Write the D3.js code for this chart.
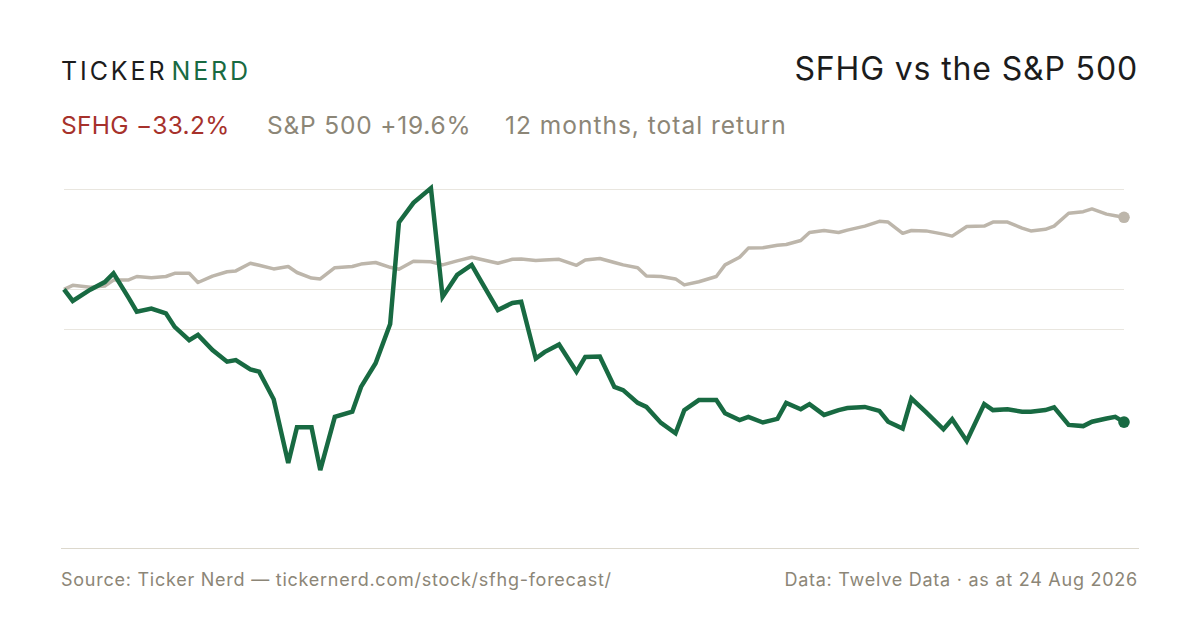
<!DOCTYPE html>
<html>
<head>
<meta charset="utf-8">
<script src="https://cdn.jsdelivr.net/npm/d3@7/dist/d3.min.js"></script>
<style>
  html, body { margin: 0; padding: 0; background: #ffffff; }
  svg { display: block; }
  text { font-family: Inter, "Noto Sans", sans-serif; }
</style>
</head>
<body>
<svg id="chart" width="1200" height="630"></svg>
<script>
// ---- data ----
const dates = [
  "2025-08-25","2025-08-28","2025-09-03","2025-09-08","2025-09-11","2025-09-16","2025-09-19","2025-09-24","2025-09-29","2025-10-02",
  "2025-10-07","2025-10-10","2025-10-15","2025-10-20","2025-10-23","2025-10-28","2025-10-31","2025-11-05","2025-11-10","2025-11-13",
  "2025-11-18","2025-11-21","2025-11-26","2025-12-02","2025-12-05","2025-12-10","2025-12-15","2025-12-18","2025-12-23","2025-12-29",
  "2026-01-02","2026-01-07","2026-01-12","2026-01-15","2026-01-21","2026-01-26","2026-01-29","2026-02-03","2026-02-06","2026-02-11",
  "2026-02-17","2026-02-20","2026-02-25","2026-03-02","2026-03-05","2026-03-10","2026-03-13","2026-03-18","2026-03-23","2026-03-26",
  "2026-03-31","2026-04-06","2026-04-09","2026-04-14","2026-04-17","2026-04-22","2026-04-27","2026-04-30","2026-05-05","2026-05-08",
  "2026-05-13","2026-05-18","2026-05-21","2026-05-27","2026-06-01","2026-06-04","2026-06-09","2026-06-12","2026-06-17","2026-06-23",
  "2026-06-26","2026-07-01","2026-07-07","2026-07-10","2026-07-15","2026-07-20","2026-07-23","2026-07-28","2026-07-31","2026-08-05",
  "2026-08-10","2026-08-13","2026-08-18","2026-08-21","2026-08-24"
];

// SFHG cumulative return, %
const sfhg = [
  0.0, -2.9, -0.1, 1.8, 4.0, -1.9, -5.6, -4.8, -6.0, -9.4,
  -12.7, -11.4, -15.2, -18.1, -17.7, -20.0, -20.6, -27.5, -43.4, -34.5,
  -34.5, -45.2, -31.9, -30.6, -24.4, -18.5, -8.7, 16.7, 21.6, 25.3,
  -1.9, 3.6, 6.1, 2.3, -5.2, -3.4, -3.1, -17.3, -15.7, -13.8,
  -20.6, -16.9, -16.8, -24.4, -25.2, -28.4, -29.4, -33.4, -36.0, -30.2,
  -27.7, -27.7, -31.0, -32.7, -31.9, -33.3, -32.4, -28.4, -30.0, -28.7,
  -31.4, -30.2, -29.7, -29.4, -30.4, -33.1, -34.8, -27.3, -30.7, -35.0,
  -32.5, -37.9, -28.7, -30.2, -30.0, -30.6, -30.6, -30.2, -29.5, -33.9,
  -34.2, -33.1, -32.3, -31.9, -33.2
];

// S&P 500 cumulative return, %
const spx = [
  0.0, 1.0, 0.5, 0.8, 2.3, 2.3, 3.2, 2.9, 3.2, 4.0,
  4.0, 1.7, 3.3, 4.4, 4.6, 6.5, 6.0, 5.1, 5.7, 4.2,
  2.8, 2.6, 5.4, 5.7, 6.3, 6.7, 5.5, 5.0, 7.0, 6.9,
  6.1, 7.1, 8.0, 7.5, 6.5, 7.5, 7.6, 7.2, 7.3, 7.5,
  6.0, 7.3, 7.7, 6.7, 6.1, 5.4, 3.3, 3.2, 2.6, 1.1,
  1.9, 3.2, 6.1, 8.0, 10.3, 10.4, 11.0, 11.2, 12.2, 14.2,
  14.7, 14.2, 14.8, 15.8, 17.0, 16.8, 14.0, 14.7, 14.6, 13.8,
  13.3, 15.7, 15.8, 16.8, 16.8, 15.3, 14.6, 15.0, 15.8, 19.0,
  19.4, 20.1, 18.8, 18.4, 18.0
];

const gridTicks = [25, 0, -10];

const logoParts = ["TICKER", "NERD"];
const titleText = "SFHG vs the S&P 500";
const subtitleParts = ["SFHG \u221233.2%", "S&P 500 +19.6%", "12 months, total return"];
const sourceText = "Source: Ticker Nerd \u2014 tickernerd.com/stock/sfhg-forecast/";
const dataText = "Data: Twelve Data \u00b7 as at 24 Aug 2026";

// ---- styling ----
const GREEN = "#186a42";
const GREY_LINE = "#bdb6ab";
const RED = "#a6312b";
const MUTED = "#8c8677";
const INK = "#1c1c1c";

const svg = d3.select("#chart");
const parse = d3.timeParse("%Y-%m-%d");
const pts = dates.map((d, i) => ({ date: parse(d), s: sfhg[i], m: spx[i] }));

const x = d3.scaleTime()
  .domain(d3.extent(pts, d => d.date))
  .range([64, 1124]);
const y = d3.scaleLinear()
  .domain([-65, 25])
  .range([549.3, 189.3]);

// header
const logo = svg.append("text")
  .attr("x", 61).attr("y", 80)
  .attr("font-size", 25)
  .attr("letter-spacing", "2.9px");
logo.append("tspan").attr("fill", INK).text(logoParts[0]);
logo.append("tspan").attr("fill", GREEN).attr("dx", 4).text(logoParts[1]);

svg.append("text")
  .attr("x", 1138).attr("y", 80)
  .attr("text-anchor", "end")
  .attr("font-size", 32)
  .attr("letter-spacing", "0.85px")
  .attr("fill", INK)
  .text(titleText);

const subX = [61, 267, 505];
const subLS = [0.3, 0.8, 1.0];
const subCol = [RED, MUTED, MUTED];
subtitleParts.forEach((t, i) => {
  svg.append("text")
    .attr("x", subX[i]).attr("y", 134)
    .attr("font-size", 24.5)
    .attr("letter-spacing", subLS[i] + "px")
    .attr("fill", subCol[i])
    .text(t);
});

// grid
svg.append("g")
  .selectAll("line")
  .data(gridTicks)
  .join("line")
  .attr("x1", x.range()[0]).attr("x2", x.range()[1])
  .attr("y1", d => Math.round(y(d)) + 0.5).attr("y2", d => Math.round(y(d)) + 0.5)
  .attr("stroke", "#e9e6df")
  .attr("stroke-width", 1);

// lines
const lineS = d3.line().x(d => x(d.date)).y(d => y(d.s));
const lineM = d3.line().x(d => x(d.date)).y(d => y(d.m));

svg.append("path")
  .datum(pts)
  .attr("d", lineM)
  .attr("fill", "none")
  .attr("stroke", GREY_LINE)
  .attr("stroke-width", 3.5)
  .attr("stroke-linejoin", "round");

svg.append("path")
  .datum(pts)
  .attr("d", lineS)
  .attr("fill", "none")
  .attr("stroke", GREEN)
  .attr("stroke-width", 4.5)
  .attr("stroke-linejoin", "miter")
  .attr("stroke-miterlimit", 4);

const last = pts[pts.length - 1];
svg.append("circle").attr("cx", x(last.date)).attr("cy", y(last.m)).attr("r", 5.8).attr("fill", GREY_LINE);
svg.append("circle").attr("cx", x(last.date)).attr("cy", y(last.s)).attr("r", 5.8).attr("fill", GREEN);

// footer
svg.append("line")
  .attr("x1", 61).attr("x2", 1139)
  .attr("y1", 548.5).attr("y2", 548.5)
  .attr("stroke", "#dcd8cd")
  .attr("stroke-width", 1);

svg.append("text")
  .attr("x", 61).attr("y", 586)
  .attr("font-size", 18)
  .attr("letter-spacing", "0.75px")
  .attr("fill", MUTED)
  .text(sourceText);

svg.append("text")
  .attr("x", 1138).attr("y", 586)
  .attr("text-anchor", "end")
  .attr("font-size", 18)
  .attr("letter-spacing", "0.75px")
  .attr("fill", MUTED)
  .text(dataText);
</script>
</body>
</html>
